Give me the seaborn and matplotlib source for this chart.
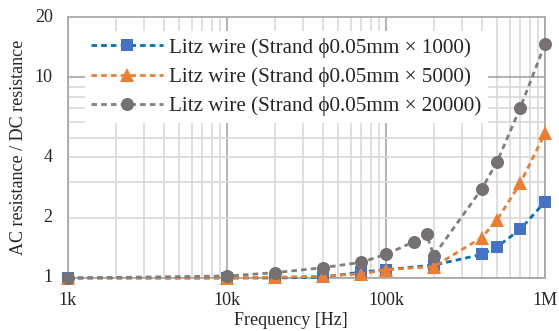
import numpy as np
import pandas as pd
import matplotlib
matplotlib.use("Agg")
import matplotlib.pyplot as plt
import seaborn as sns
from matplotlib.ticker import FixedLocator, FixedFormatter, NullFormatter

# ---- data ----
freq_a = [1e3, 1e4, 2e4, 4e4, 7e4, 1e5, 2e5, 4e5, 5e5, 7e5, 1e6]
ratio_1000 = [1.0, 1.0, 1.0, 1.01, 1.07, 1.10, 1.16, 1.31, 1.43, 1.75, 2.40]
ratio_5000 = [1.0, 1.0, 1.01, 1.02, 1.05, 1.10, 1.14, 1.59, 1.95, 2.97, 5.27]
freq_b = [1e3, 1e4, 2e4, 4e4, 7e4, 1e5, 1.5e5, 1.8e5, 2e5, 4e5, 5e5, 7e5, 1e6]
ratio_20000 = [1.0, 1.023, 1.063, 1.125, 1.198, 1.313, 1.517, 1.652, 1.292, 2.78, 3.80, 7.07, 14.67]

labels = ["Litz wire (Strand \u03d50.05mm \u00d7 1000)",
          "Litz wire (Strand \u03d50.05mm \u00d7 5000)",
          "Litz wire (Strand \u03d50.05mm \u00d7 20000)"]

x_ticks = [1e3, 1e4, 1e5, 1e6]
x_ticklabels = ["1k", "10k", "100k", "1M"]
y_ticks = [1, 2, 4, 10, 20]
y_ticklabels = ["1", "2", "4", "10", "20"]

sns.set_style("white")
plt.rcParams["font.family"] = ["Liberation Serif", "DejaVu Serif"]

fig = plt.figure(figsize=(5.59, 3.31), dpi=100)
ax = fig.add_axes([68/559, 53/331, (545-68)/559, (278-17)/331])

series = [
    (freq_a, ratio_1000, labels[0], "#0070C0", "#4472C4", "s", 8.8),
    (freq_a, ratio_5000, labels[1], "#ED7D31", "#ED7D31", "^", 9.8),
    (freq_b, ratio_20000, labels[2], "#7F7F7F", "#767171", "o", 9.4),
]
for i, (xs, ys, lab, lc, mc, mk, ms) in enumerate(series):
    df = pd.DataFrame({"f": xs, "r": ys})
    sns.lineplot(data=df, x="f", y="r", ax=ax, label=lab, color=lc,
                 linewidth=2.0, linestyle=(0, (2.0, 1.5)), marker=mk,
                 markersize=ms, markerfacecolor=mc, markeredgecolor=mc,
                 markeredgewidth=0, sort=False, zorder=3 + i, clip_on=False)

ax.set_xscale("log")
ax.set_yscale("log")
ax.set_xlim(1e3, 1e6)
ax.set_ylim(1, 20)

ax.xaxis.set_major_locator(FixedLocator(x_ticks))
ax.xaxis.set_major_formatter(FixedFormatter(x_ticklabels))
ax.xaxis.set_minor_locator(FixedLocator([m * d for d in [1e3, 1e4, 1e5] for m in range(2, 10)]))
ax.xaxis.set_minor_formatter(NullFormatter())

ax.yaxis.set_major_locator(FixedLocator([1, 10]))
ax.yaxis.set_minor_locator(FixedLocator([2, 3, 4, 5, 6, 7, 8, 9, 20]))
ax.yaxis.set_minor_formatter(NullFormatter())
ax.yaxis.set_major_formatter(NullFormatter())
for v, t in zip(y_ticks, y_ticklabels):
    ax.text(-0.032, (np.log10(v)) / np.log10(20), t, transform=ax.transAxes,
            ha="right", va="center", fontsize=13)

ax.grid(True, which="major", color="#A6A6A6", linewidth=1.2)
ax.grid(True, which="minor", color="#D9D9D9", linewidth=1.2)
ax.set_axisbelow(True)
ax.tick_params(which="both", length=0, labelsize=13)
ax.tick_params(axis="x", pad=10)
for s in ax.spines.values():
    s.set_color("#A6A6A6")
    s.set_linewidth(1.2)

ax.set_xlabel("Frequency [Hz]", fontsize=13)
ax.xaxis.set_label_coords((291 - 68) / 477, -34 / 261)
ax.set_ylabel("AC resistance / DC resistance", fontsize=13)
ax.yaxis.set_label_coords(-41 / 477, 0.5)

leg = ax.legend(loc="upper left", bbox_to_anchor=(0.035, 0.945), fontsize=15.2,
                frameon=True, fancybox=False, framealpha=1, edgecolor="none",
                handlelength=3.4, handletextpad=0.3, labelspacing=0.44,
                borderpad=0.3, borderaxespad=0)
leg.get_frame().set_facecolor("white")
leg.set_zorder(10)

fig.savefig("out.png", dpi=100)
